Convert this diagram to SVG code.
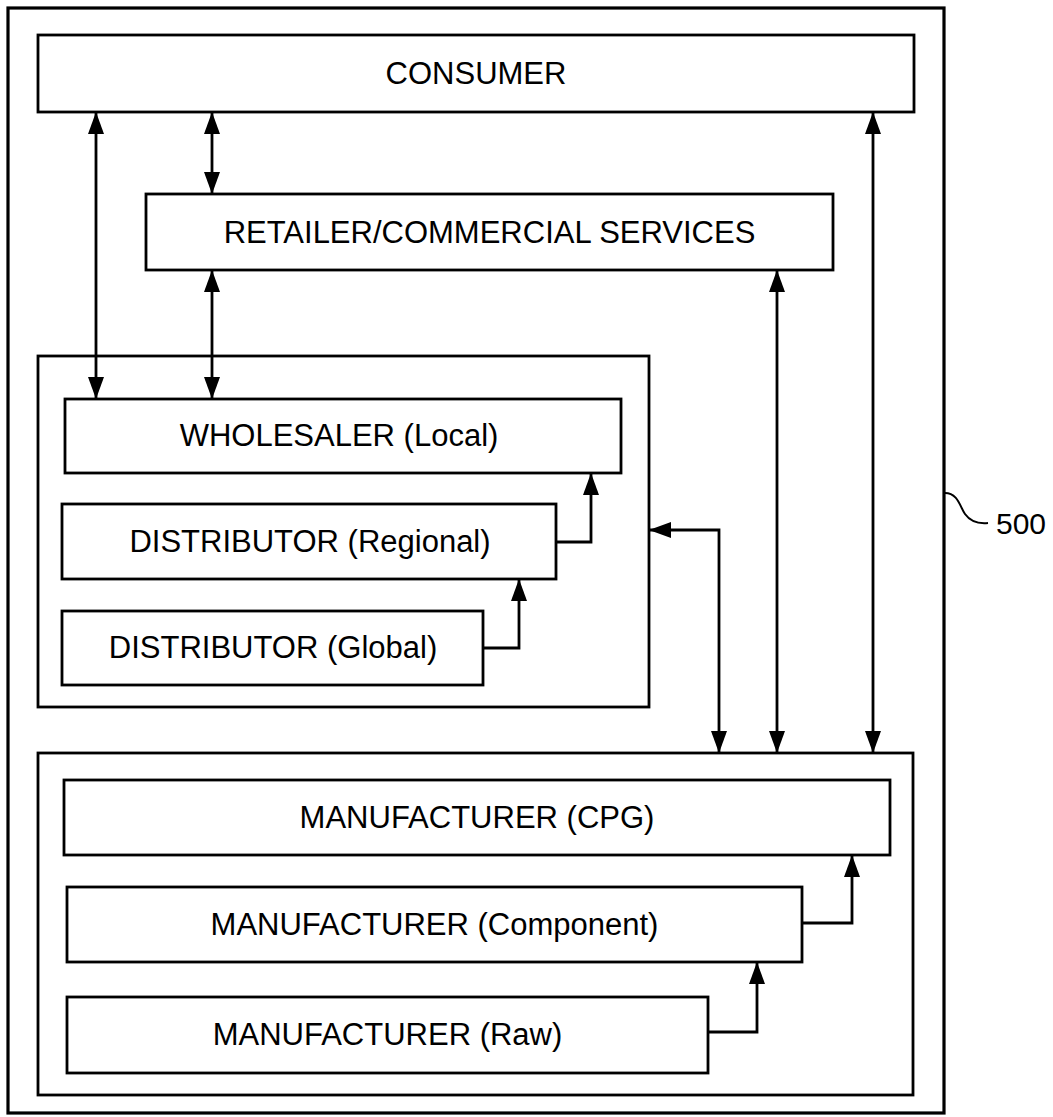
<svg xmlns="http://www.w3.org/2000/svg" width="1053" height="1117" viewBox="0 0 1053 1117">
<defs>
<style>
.box{fill:#fff;stroke:#000;stroke-width:2.8}
.grp{fill:none;stroke:#000;stroke-width:2.8}
.outer{fill:none;stroke:#000;stroke-width:3.2}
.lbl{font-family:"Liberation Sans",Arial,sans-serif;font-size:31px;fill:#000;text-anchor:middle}
.conn{fill:none;stroke:#000;stroke-width:2.8}
.both{marker-start:url(#ah);marker-end:url(#ah)}
.one{marker-end:url(#ah)}
</style>
<marker id="ah" viewBox="0 0 22 16" refX="22" refY="8" markerWidth="22" markerHeight="16" markerUnits="userSpaceOnUse" orient="auto-start-reverse">
<path d="M0,0 L22,8 L0,16 z" fill="#000"/>
</marker>
</defs>
<rect width="1053" height="1117" fill="#fff"/>
<g id="system-500">
<rect class="outer" x="8" y="8" width="936" height="1105"/>
<path d="M945,493 C958,493 960,507 965,514 C970,521 978,524 988,523" fill="none" stroke="#000" stroke-width="2"/>
<text x="996" y="534" style="font-family:'Liberation Sans',Arial,sans-serif;font-size:30px">500</text>
</g>
<g id="consumer">
<rect class="box" x="38" y="35" width="876" height="77"/>
<text class="lbl" x="476" y="84">CONSUMER</text>
</g>
<g id="retailer">
<rect class="box" x="146" y="194" width="687" height="76"/>
<text class="lbl" x="489.5" y="242.5">RETAILER/COMMERCIAL SERVICES</text>
</g>
<g id="distribution-group">
<rect class="grp" x="38" y="356" width="611" height="351"/>
</g>
<g id="wholesaler">
<rect class="box" x="65" y="399" width="556" height="74"/>
<text class="lbl" x="339" y="446">WHOLESALER (Local)</text>
</g>
<g id="distributor-regional">
<rect class="box" x="62" y="504" width="494" height="75"/>
<text class="lbl" x="310" y="552">DISTRIBUTOR (Regional)</text>
</g>
<g id="distributor-global">
<rect class="box" x="62" y="611" width="421" height="74"/>
<text class="lbl" x="273" y="658">DISTRIBUTOR (Global)</text>
</g>
<g id="manufacturing-group">
<rect class="grp" x="38" y="753" width="875" height="342"/>
</g>
<g id="manufacturer-cpg">
<rect class="box" x="64" y="780" width="826" height="75"/>
<text class="lbl" x="477" y="828">MANUFACTURER (CPG)</text>
</g>
<g id="manufacturer-component">
<rect class="box" x="67" y="887" width="735" height="75"/>
<text class="lbl" x="434.5" y="935">MANUFACTURER (Component)</text>
</g>
<g id="manufacturer-raw">
<rect class="box" x="67" y="997" width="641" height="76"/>
<text class="lbl" x="387.5" y="1045">MANUFACTURER (Raw)</text>
</g>
<g id="connectors">
<line class="conn both" x1="96" y1="112" x2="96" y2="399"/>
<line class="conn both" x1="212" y1="112" x2="212" y2="194"/>
<line class="conn both" x1="212" y1="270" x2="212" y2="399"/>
<line class="conn both" x1="777" y1="270" x2="777" y2="753"/>
<line class="conn both" x1="873" y1="112" x2="873" y2="753"/>
<polyline class="conn both" points="649,530 719,530 719,753"/>
<polyline class="conn one" points="556,542 591,542 591,473"/>
<polyline class="conn one" points="483,648 519,648 519,579"/>
<polyline class="conn one" points="802,923 852,923 852,855"/>
<polyline class="conn one" points="708,1032 757,1032 757,962"/>
</g>
</svg>
